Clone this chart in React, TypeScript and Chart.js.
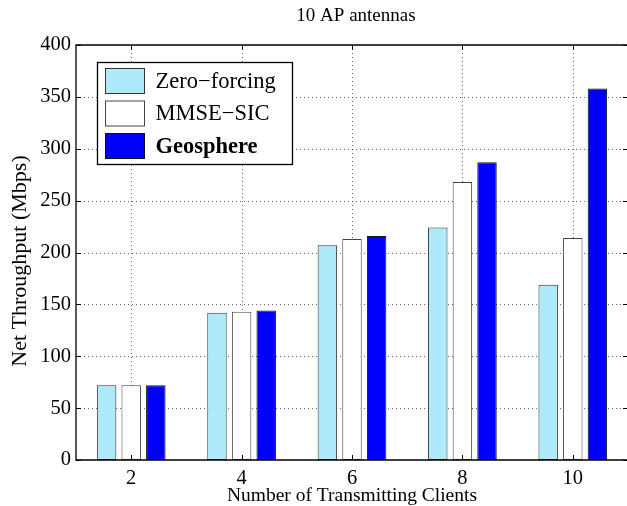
import React, { useEffect, useRef } from "react";
import { Chart, registerables } from "chart.js";

Chart.register(...registerables);

const categories = ["2", "4", "6", "8", "10"];
const zeroForcing = [72, 142, 207, 224, 169];
const mmseSic = [72, 143, 213, 268, 214];
const geosphere = [72, 144, 216, 287, 358];
const seriesNames = ["Zero\u2212forcing", "MMSE\u2212SIC", "Geosphere"];
const yTicks = [0, 50, 100, 150, 200, 250, 300, 350, 400];
const chartTitle = "10 AP antennas";
const xTitle = "Number of Transmitting Clients";
const yTitle = "Net Throughput (Mbps)";

const FONT = "'Liberation Serif', 'Times New Roman', serif";

const gridPlugin = {
  id: "dotgrid",
  beforeDatasetsDraw(chart: any) {
    const { ctx, chartArea } = chart;
    const { left, right, top, bottom } = chartArea;
    const ys = chart.scales.y;
    const xs = chart.scales.x;
    ctx.save();
    ctx.strokeStyle = "rgba(0,0,0,0.6)";
    ctx.lineWidth = 1;
    ctx.setLineDash([1, 3]);
    ctx.beginPath();
    yTicks.forEach((v) => {
      if (v === 0 || v === 400) return;
      const py = Math.round(ys.getPixelForValue(v)) + 0.5;
      ctx.moveTo(left, py);
      ctx.lineTo(right, py);
    });
    categories.forEach((_, i) => {
      const px = Math.round(xs.getPixelForValue(i)) + 0.5;
      ctx.moveTo(px, top);
      ctx.lineTo(px, bottom);
    });
    ctx.stroke();
    ctx.restore();
  },
};

const framePlugin = {
  id: "frame",
  afterDatasetsDraw(chart: any) {
    const { ctx, chartArea } = chart;
    const { left, right, top, bottom } = chartArea;
    ctx.save();
    ctx.strokeStyle = "#000";
    ctx.lineWidth = 1.3;
    ctx.beginPath();
    ctx.rect(left, top, right - left, bottom - top);
    ctx.stroke();
    const ys = chart.scales.y;
    const xs = chart.scales.x;
    ctx.lineWidth = 1;
    ctx.beginPath();
    yTicks.forEach((v) => {
      const py = Math.round(ys.getPixelForValue(v)) + 0.5;
      ctx.moveTo(left, py);
      ctx.lineTo(left + 5, py);
      ctx.moveTo(right, py);
      ctx.lineTo(right - 5, py);
    });
    categories.forEach((_, i) => {
      const px = Math.round(xs.getPixelForValue(i)) + 0.5;
      ctx.moveTo(px, bottom);
      ctx.lineTo(px, bottom - 5);
      ctx.moveTo(px, top);
      ctx.lineTo(px, top + 5);
    });
    ctx.stroke();

    // legend
    const bx = 97.5, by = 62.5, bw = 195, bh = 102;
    ctx.fillStyle = "#fff";
    ctx.fillRect(bx, by, bw, bh);
    ctx.lineWidth = 1.3;
    ctx.strokeStyle = "#000";
    ctx.strokeRect(bx, by, bw, bh);
    chart.data.datasets.forEach((ds: any, i: number) => {
      const sy = 68.5 + i * 32.5;
      ctx.fillStyle = ds.backgroundColor;
      ctx.fillRect(105.5, sy, 39, 25);
      ctx.lineWidth = 1;
      ctx.strokeStyle = ds.borderColor;
      ctx.strokeRect(105.5, sy, 39, 25);
      ctx.fillStyle = "#000";
      ctx.textBaseline = "middle";
      ctx.textAlign = "left";
      ctx.font = (i === 2 ? "bold " : "") + "22.5px " + FONT;
      ctx.fillText(ds.label, 155.5, sy + 13.5);
    });

    // title
    ctx.font = "19px " + FONT;
    ctx.textAlign = "center";
    ctx.textBaseline = "middle";
    ctx.fillStyle = "#000";
    ctx.fillText(chartTitle, (left + right) / 2 + 4, 16);

    // axis titles
    ctx.font = "19.5px " + FONT;
    ctx.textBaseline = "middle";
    ctx.fillText(xTitle, (left + right) / 2, 496);
    ctx.save();
    ctx.translate(20, 261);
    ctx.rotate(-Math.PI / 2);
    ctx.font = "22px " + FONT;
    ctx.fillText(yTitle, 0, 0);
    ctx.restore();
    ctx.restore();
  },
};

export default function App() {
  const ref = useRef<HTMLCanvasElement | null>(null);
  useEffect(() => {
    if (!ref.current) return;
    const chart = new Chart(ref.current, {
      type: "bar",
      data: {
        labels: categories,
        datasets: [
          { label: seriesNames[0], data: zeroForcing, backgroundColor: "#aeeafa", borderColor: "#333", borderWidth: 1, borderSkipped: false },
          { label: seriesNames[1], data: mmseSic, backgroundColor: "#ffffff", borderColor: "#444", borderWidth: 1, borderSkipped: false },
          { label: seriesNames[2], data: geosphere, backgroundColor: "#0000ff", borderColor: "#111", borderWidth: 1, borderSkipped: false },
        ],
      },
      options: {
        responsive: false,
        animation: false,
        events: [],
        layout: { padding: { left: 0, right: 12, top: 45, bottom: 0 } },
        datasets: { bar: { categoryPercentage: 0.669, barPercentage: 0.79 } },
        plugins: { legend: { display: false }, title: { display: false }, tooltip: { enabled: false } },
        scales: {
          x: {
            offset: true,
            grid: { display: false, drawTicks: false },
            border: { display: false },
            ticks: { color: "#000", font: { family: FONT, size: 20.5 }, padding: 6, maxRotation: 0 },
            afterFit(scale: any) { scale.height = 46; },
          },
          y: {
            min: 0,
            max: 400,
            afterBuildTicks(scale: any) { scale.ticks = yTicks.map((v) => ({ value: v })); },
            grid: { display: false, drawTicks: false },
            border: { display: false },
            ticks: { color: "#000", font: { family: FONT, size: 20.5 }, padding: 5 },
            afterFit(scale: any) { scale.width = 76; },
          },
        },
      },
      plugins: [gridPlugin, framePlugin],
    } as any);
    return () => chart.destroy();
  }, []);
  return (
    <div style={{ position: "absolute", left: 0, top: 0, width: 627, height: 506, overflow: "hidden", background: "#fff" }}>
      <canvas ref={ref} width={640} height={506} style={{ display: "block", width: 640, height: 506 }} />
    </div>
  );
}
